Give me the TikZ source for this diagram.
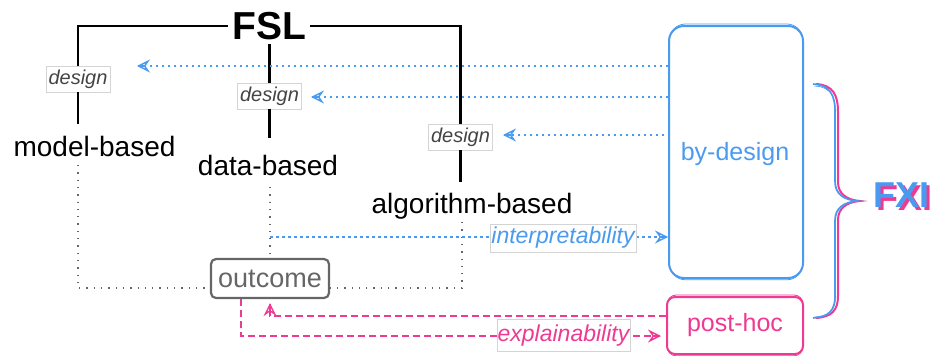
\documentclass[tikz,border=0pt]{standalone}
\usepackage{fontspec}
\setmainfont{Liberation Sans}
\usetikzlibrary{arrows.meta}
\definecolor{fblue}{HTML}{4A9BEF}
\definecolor{fpink}{HTML}{EE3A93}
\definecolor{fgray}{HTML}{666666}
\definecolor{lblgray}{HTML}{444444}
\definecolor{boxgray}{HTML}{D4D4D4}
\begin{document}
\begin{tikzpicture}[x=1pt,y=-1pt,
  tree/.style={line width=2.4pt, black},
  designlbl/.style={draw=boxgray, fill=white, line width=0.8pt, font=\fontsize{20}{22}\selectfont\itshape, text=lblgray, inner sep=0pt, minimum width=64pt, minimum height=26pt},
  cat/.style={font=\fontsize{28}{30}\selectfont, anchor=base, inner sep=0pt},
  graydot/.style={fgray, line width=1.3pt, dash pattern=on 1.3pt off 6pt},
  bluedot/.style={fblue, line width=2pt, dash pattern=on 2.5pt off 3.5pt},
  bluetip/.style={fblue, solid, line width=1.4pt, -{Stealth[open, length=13pt, width=13pt, inset=4.5pt]}},
  pinkdash/.style={fpink, line width=2pt, dash pattern=on 7pt off 4pt},
  pinktip/.style={fpink, solid, line width=1.4pt, -{Stealth[open, length=13pt, width=13pt, inset=4.5pt]}},
  edgelbl/.style={draw=boxgray, fill=white, line width=0.8pt, font=\fontsize{23}{25}\selectfont\itshape, inner sep=0pt},
  bigbox/.style={line width=2pt, font=\fontsize{25}{27}\selectfont, inner sep=0pt},
]
\useasboundingbox (0,0) rectangle (935,356);

% FSL tree
\node[font=\fontsize{39}{40}\selectfont\bfseries, inner sep=4pt] (fsl) at (269,26) {FSL};
\node[designlbl] (d1) at (78,79) {design};
\node[designlbl] (d2) at (269.5,96) {design};
\node[designlbl] (d3) at (460.5,137) {design};
\node[cat] (model) at (94.5,156) {model-based};
\node[cat] (data) at (268,175) {data-based};
\node[cat] (algo) at (472,213) {algorithm-based};
\coordinate (m0) at (78,124);
\coordinate (b0) at (269.5,138);
\coordinate (a0) at (460.5,182);
\draw[tree] (fsl.west) -| (d1.north);
\draw[tree] (d1.south) -- (m0);
\draw[tree] (fsl.east) -| (d3.north);
\draw[tree] (d3.south) -- (a0);
\draw[tree] (fsl.south -| d2.north) -- (d2.north);
\draw[tree] (d2.south) -- (b0);

% outcome
\node[draw=fgray, line width=2.2pt, rounded corners=5pt, text=fgray, font=\fontsize{27}{29}\selectfont, minimum width=118pt, minimum height=39pt, inner sep=0pt] (out) at (270,278.5) {outcome};
\coordinate (m1) at (78,165);
\coordinate (b1) at (270,187);
\coordinate (a1) at (462,222);
\draw[graydot] (m1) |- ([yshift=-9.5pt]out.west);
\draw[graydot] (b1) -- (out.north);
\draw[graydot] (a1) |- ([yshift=-9.5pt]out.east);

% right boxes
\node[bigbox, draw=fblue, rounded corners=15pt, text=fblue, minimum width=134pt, minimum height=252pt] (bd) at (736,152) {};
\node[font=\fontsize{25}{27}\selectfont, text=fblue, inner sep=0pt] (bdt) at (735,154) {by-design};
\draw[fblue, line width=0.8pt, rounded corners=16pt] ([shift={(1.5,-1)}]bd.north west) rectangle ([shift={(-1.2,0.8)}]bd.south east);
\node[bigbox, draw=fpink, rounded corners=8pt, text=fpink, minimum width=136pt, minimum height=57pt] (ph) at (735,325.5) {post-hoc};
\draw[fpink, line width=0.8pt, rounded corners=9pt] ([shift={(1.2,-1)}]ph.north west) rectangle ([shift={(-1,0.8)}]ph.south east);

% blue design arrows
\coordinate (t1) at (137,66);
\coordinate (t2) at (311,97);
\coordinate (t3) at (503,135);
\draw[bluedot] (bd.west |- t1) -- ([xshift=8pt]t1);
\draw[bluetip] ([xshift=1pt]t1) -- (t1);
\draw[bluedot] (bd.west |- t2) -- ([xshift=8pt]t2);
\draw[bluetip] ([xshift=1pt]t2) -- (t2);
\draw[bluedot] ([xshift=-4pt]bd.west |- t3) -- ([xshift=8pt]t3);
\draw[bluetip] ([xshift=1pt]t3) -- (t3);

% interpretability
\coordinate (i0) at (270,237);
\draw[bluedot] (i0) -- ([xshift=-8pt]bd.west |- i0);
\draw[bluetip] ([xshift=-1pt]bd.west |- i0) -- (bd.west |- i0);
\node[edgelbl, text=fblue, minimum width=146pt, minimum height=28pt] (interp) at (563,238) {interpretability};

% pink arrows
\coordinate (o1) at ([yshift=-4pt]out.south);
\coordinate (p1) at ([yshift=9.5pt]ph.west);
\coordinate (p2) at ([xshift=-5pt,yshift=-10.5pt]ph.west);
\draw[pinkdash] (p1) -| ([yshift=-8pt]o1);
\draw[pinktip] ([yshift=-1pt]o1) -- (o1);
\draw[pinkdash] ([xshift=-29pt]out.south) |- ([xshift=-8pt]p2);
\draw[pinktip] ([xshift=-1pt]p2) -- (p2);
\node[edgelbl, text=fpink, minimum width=133pt, minimum height=32pt] (expl) at (563.5,335.5) {explainability};

% brace
\draw[fpink, line width=2pt, xshift=3pt] (813,84) .. controls (830,85) and (835,95) .. (835,112) -- (835,182) .. controls (835,194) and (844,200) .. (857,201) .. controls (844,202) and (835,208) .. (835,220) -- (835,296) .. controls (835,310) and (829,317) .. (813,318);
\draw[fblue, line width=1.6pt] (813,84) .. controls (830,85) and (835,95) .. (835,112) -- (835,182) .. controls (835,194) and (844,200) .. (857,201) .. controls (844,202) and (835,208) .. (835,220) -- (835,296) .. controls (835,310) and (829,317) .. (813,318);
\draw[fblue, line width=0.7pt, xshift=1.5pt] (813,86) .. controls (830,87) and (834,97) .. (834,112) -- (834,182) .. controls (834,194) and (844,200) .. (856,201) .. controls (844,202) and (834,208) .. (834,220) -- (834,296) .. controls (834,310) and (829,316) .. (813,317);

% FXI
\node[font=\fontsize{36}{38}\selectfont\bfseries, text=fpink, anchor=west, inner sep=0pt] (fxis) at (876,198) {FXI};
\node[font=\fontsize{36}{38}\selectfont\bfseries, text=fblue, anchor=west, inner sep=0pt] (fxi) at (873,195) {FXI};
\end{tikzpicture}
\end{document}
